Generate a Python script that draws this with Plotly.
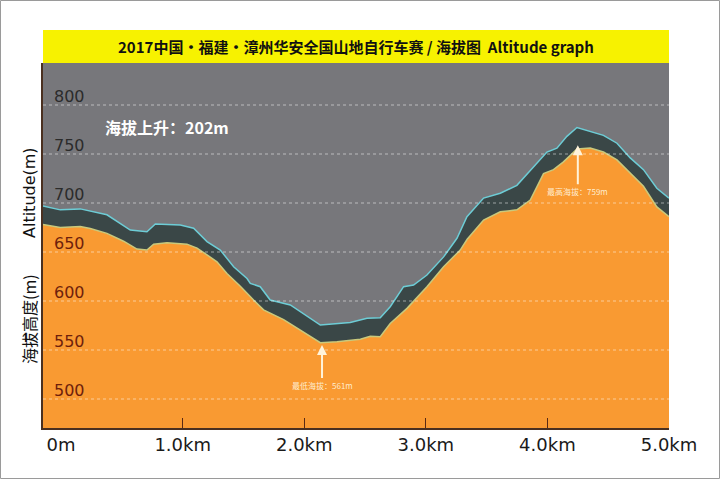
import plotly.graph_objects as go

# ---- data ----
dist_ground_km = [-0.149, -0.007, 0.158, 0.240, 0.377, 0.514, 0.624, 0.706, 0.761, 0.871,
                  1.035, 1.118, 1.200, 1.282, 1.364, 1.474, 1.583, 1.665, 1.830, 1.967,
                  2.132, 2.269, 2.461, 2.543, 2.625, 2.707, 2.845, 3.009, 3.146, 3.283,
                  3.340, 3.475, 3.612, 3.749, 3.859, 3.968, 4.050, 4.132, 4.243, 4.352,
                  4.461, 4.572, 4.681, 4.790, 4.900, 5.000]
alt_ground_m = [678, 675, 676, 674, 669, 661, 653, 652, 658, 659.5,
                658, 654, 647, 640, 628, 615, 601, 591, 581, 570,
                557.5, 558.5, 561, 564, 563.5, 577, 592.5, 614.6, 635, 652,
                663, 682.6, 691, 693, 703, 730, 734, 742, 755, 756,
                752, 744, 730, 717, 696, 686]

dist_top_km = [-0.149, -0.007, 0.158, 0.240, 0.377, 0.569, 0.706, 0.775, 0.980, 1.090,
               1.200, 1.309, 1.419, 1.529, 1.556, 1.638, 1.720, 1.885, 2.132, 2.378,
               2.516, 2.625, 2.707, 2.817, 2.899, 3.009, 3.146, 3.256, 3.338, 3.475,
               3.612, 3.749, 3.886, 3.996, 4.078, 4.160, 4.243, 4.352, 4.461, 4.572,
               4.681, 4.790, 4.900, 5.000]
alt_top_m = [697, 693, 694, 692, 688, 672.4, 670.7, 678.6, 677.6, 674.2,
             660.6, 652, 635, 623, 618, 614.6, 601, 596, 575.5, 578,
             582.3, 583, 594.2, 614.6, 616.3, 626.5, 645, 664, 686, 705,
             710, 718, 737, 752, 756, 768, 777, 773, 769, 761,
             746, 734, 715, 705]

y_tick_vals = [500, 550, 600, 650, 700, 750, 800]
x_tick_vals = [0, 1, 2, 3, 4, 5]
x_tick_text = ["0m", "1.0km", "2.0km", "3.0km", "4.0km", "5.0km"]

min_point = (2.146, 555, "最低海拔：561m")
max_point = (4.25, 759, "最高海拔：759m")
gain_text = "海拔上升：202m"
title_text = "2017中国·福建·漳州华安全国山地自行车赛 / 海拔图  Altitude graph"

# ---- layout geometry ----
W, H = 720, 479
ML, MR, MT, MB = 43, 51, 63, 51
PW, PH = W - ML - MR, H - MT - MB
BANNER_TOP = 30

BG_GRAY = "#77777b"
BAND = "#3a4747"
ORANGE = "#f99a32"
CYAN = "#6dcdd6"
EDGE = "#c9c97c"

fig = go.Figure()
fig.add_trace(go.Scatter(x=dist_top_km, y=alt_top_m, mode="lines", fill="tozeroy",
                         fillcolor=BAND, line=dict(color=CYAN, width=1.5),
                         hoverinfo="skip", showlegend=False))
fig.add_trace(go.Scatter(x=dist_ground_km, y=alt_ground_m, mode="lines", fill="tozeroy",
                         fillcolor=ORANGE, line=dict(color=EDGE, width=1.5),
                         hoverinfo="skip", showlegend=False))

shapes = []
# dotted grid lines above the fills
for v in y_tick_vals:
    shapes.append(dict(type="line", xref="paper", yref="y", x0=0, x1=1, y0=v, y1=v,
                       line=dict(color="rgba(255,255,255,0.5)", width=1.2, dash="dot"),
                       layer="above"))
# yellow title banner
shapes.append(dict(type="rect", xref="paper", yref="paper", x0=0, x1=1,
                   y0=1, y1=1 + (MT - BANNER_TOP) / PH, fillcolor="#f7f200",
                   line=dict(width=0), layer="above"))
# outer picture border
shapes.append(dict(type="rect", xref="paper", yref="paper",
                   x0=(0.5 - ML) / PW, x1=(W - 0.5 - ML) / PW,
                   y0=-(MB - 0.5) / PH, y1=(H - 0.5 - MB) / PH,
                   line=dict(color="#9a9a9a", width=1), fillcolor="rgba(0,0,0,0)"))

annotations = []
for v in y_tick_vals:
    col = "#2b2b2b" if v >= 700 else "#6e1f0c"
    annotations.append(dict(xref="paper", yref="y", x=0, y=v, xshift=9, yshift=9,
                            xanchor="left", yanchor="middle", showarrow=False,
                            text=str(v), font=dict(family="DejaVu Sans", size=16, color=col)))

annotations.append(dict(xref="paper", yref="paper", x=0.5,
                        y=1 + (MT - BANNER_TOP) / 2 / PH,
                        xanchor="center", yanchor="middle", showarrow=False,
                        text="<b>" + title_text + "</b>",
                        font=dict(family="Noto Sans CJK SC", size=15, color="#111111")))
annotations.append(dict(xref="paper", yref="y", x=(103 - ML) / PW, y=778,
                        xanchor="left", yanchor="middle", showarrow=False,
                        text="<b>" + gain_text + "</b>",
                        font=dict(family="Noto Sans CJK SC", size=16, color="#ffffff")))
for (px, py, t), ay in ((min_point, 40), (max_point, 46)):
    annotations.append(dict(x=px, y=py, xref="x", yref="y", ax=0, ay=ay,
                            text=t, showarrow=True, arrowhead=2, arrowsize=1,
                            arrowwidth=2, arrowcolor="#fff3da", standoff=0,
                            font=dict(family="Noto Sans CJK SC", size=8,
                                      color="rgba(255,243,220,0.95)")))
# axis titles
annotations.append(dict(xref="paper", yref="paper", x=(29 - ML) / PW, y=(H - MB - 193) / PH,
                        textangle=-90, showarrow=False, text="Altitude(m)",
                        xanchor="center", yanchor="middle",
                        font=dict(family="DejaVu Sans", size=16, color="#111111")))
annotations.append(dict(xref="paper", yref="paper", x=(29 - ML) / PW, y=(H - MB - 319) / PH,
                        textangle=-90, showarrow=False, text="海拔高度(m)",
                        xanchor="center", yanchor="middle",
                        font=dict(family="Noto Sans CJK SC", size=16, color="#111111")))

y_top = 800 + (105 - MT) * 50 / 49
y_bot = 800 - (428 - 105) * 50 / 49

fig.update_layout(
    width=W, height=H,
    margin=dict(l=ML, r=MR, t=MT, b=MB, pad=0),
    paper_bgcolor="white", plot_bgcolor=BG_GRAY,
    showlegend=False,
    shapes=shapes, annotations=annotations,
    xaxis=dict(range=[-0.149, 5.0], tickvals=x_tick_vals, ticktext=x_tick_text,
               showgrid=False, zeroline=False, ticks="", showline=True,
               linecolor="#4a3020", linewidth=1.5,
               tickfont=dict(family="DejaVu Sans", size=18, color="#1a1a1a"),
               minor=dict(tickvals=[1, 2, 3, 4], ticks="inside", ticklen=10,
                          tickcolor="#5a2a14", tickwidth=1.2, showgrid=False),
               fixedrange=True, layer="above traces"),
    yaxis=dict(range=[y_bot, y_top], showgrid=False, zeroline=False,
               showticklabels=False, ticks="", showline=True,
               linecolor="#4a3020", linewidth=1.5, fixedrange=True,
               layer="above traces"),
)

fig.write_html("out.html")
